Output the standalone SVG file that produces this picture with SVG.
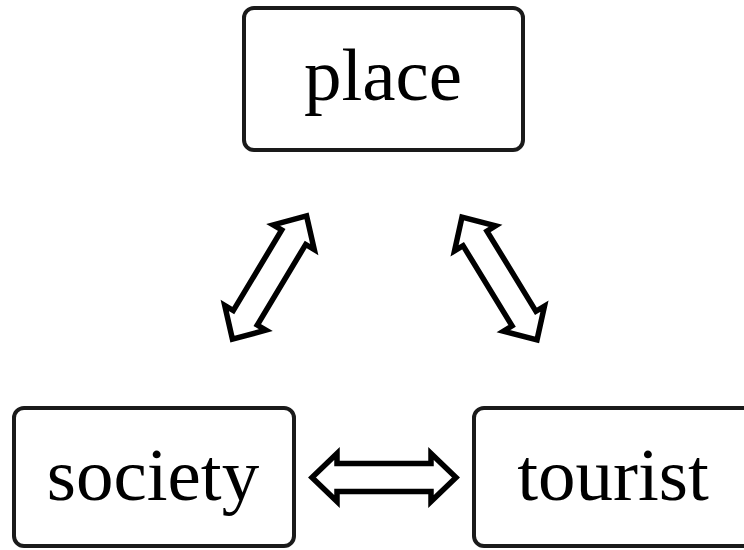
<svg xmlns="http://www.w3.org/2000/svg" xmlns:xlink="http://www.w3.org/1999/xlink" width="744" height="550" viewBox="0 0 744 550">
<style>
.box{fill:#fff;stroke:#1a1a1a;stroke-width:4}
.lbl{font-family:"Liberation Serif","Times New Roman",serif;font-size:75px;fill:#000;text-anchor:middle}
.arr{fill:#fff;stroke:#000;stroke-width:5.5;stroke-linejoin:miter}
</style>
<defs>
<path id="dbl" class="arr" d="M-72,0 L-47,-24 L-47,-14 L47,-14 L47,-24 L72,0 L47,24 L47,14 L-47,14 L-47,24 Z"/>
</defs>
<rect width="744" height="550" fill="#fff"/>
<g id="connectors">
<use xlink:href="#dbl" transform="translate(269.5,277.5) rotate(-59)"/>
<use xlink:href="#dbl" transform="translate(499.5,278.5) rotate(58.6)"/>
<use xlink:href="#dbl" transform="translate(384,477.5)"/>
</g>
<g id="place">
<rect class="box" x="244" y="8" width="279" height="142" rx="10"/>
<text class="lbl" x="383" y="100">place</text>
</g>
<g id="society">
<rect class="box" x="14" y="408" width="280" height="138" rx="10"/>
<text class="lbl" x="153" y="500">society</text>
</g>
<g id="tourist">
<rect class="box" x="474" y="408" width="280" height="138" rx="10"/>
<text class="lbl" x="613" y="500">tourist</text>
</g>
</svg>
